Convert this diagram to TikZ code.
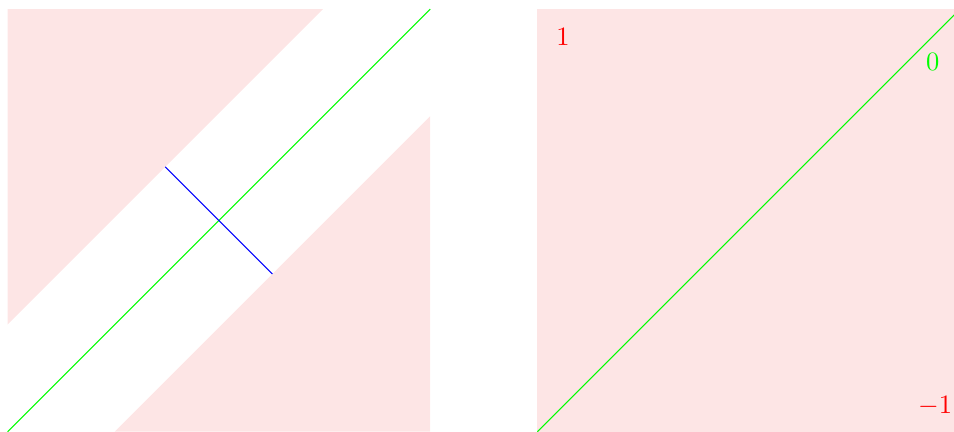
\documentclass[tikz,border=0pt]{standalone}
\usepackage{xcolor}
\usepackage{tikz}
\usetikzlibrary{positioning,calc}
\definecolor{BandPink}{HTML}{FDE5E5}
\definecolor{LevelGreen}{HTML}{00FF00}
\definecolor{NormalBlue}{HTML}{0000FF}
\definecolor{LevelRed}{HTML}{FF0000}

\begin{document}
\begin{tikzpicture}[x=1mm,y=1mm]
  \path[use as bounding box] (0,0) rectangle (126.4,57.2);

  \tikzset{
    mgRegion/.style={
      fill=BandPink,
      draw=none
    },
    mgZero/.style={
      draw=LevelGreen,
      line width=.4pt
    },
    mgNormal/.style={
      draw=NormalBlue,
      line width=.4pt
    },
    mgValue/.style={
      inner sep=0pt,
      font=\normalsize,
      text=LevelRed
    },
    mgZeroValue/.style={
      mgValue,
      text=LevelGreen
    }
  }

  % Links: Streifen um die Nulllinie bleibt frei.
  \coordinate (lowL)  at (1,0);
  \coordinate (highL) at (57,56);
  \fill[mgRegion] (1,14.2) -- (1,56) -- (42.8,56) -- cycle;
  \fill[mgRegion] (15.2,0) -- (57,0) -- (57,41.8) -- cycle;
  \draw[mgZero] (lowL) -- (highL);

  \coordinate (crossA) at (21.9,35.1);
  \coordinate (crossB) at (36.1,20.9);
  \draw[mgNormal] (crossA) -- (crossB);

  % Rechts: ganze Flaeche mit Werten 1, 0, -1.
  \fill[mgRegion] (71.2,0) rectangle (127.2,56);
  \coordinate (lowR)  at (71.2,0);
  \coordinate (highR) at (127.2,56);
  \draw[mgZero] (lowR) -- (highR);

  \node[mgValue]     (valPlus)  at (74.6,52.3) {$1$};
  \node[mgZeroValue] (valZero)  at (123.6,49.0) {$0$};
  \node[mgValue]     (valMinus) at (123.9,3.4) {$-1$};
\end{tikzpicture}
\end{document}
